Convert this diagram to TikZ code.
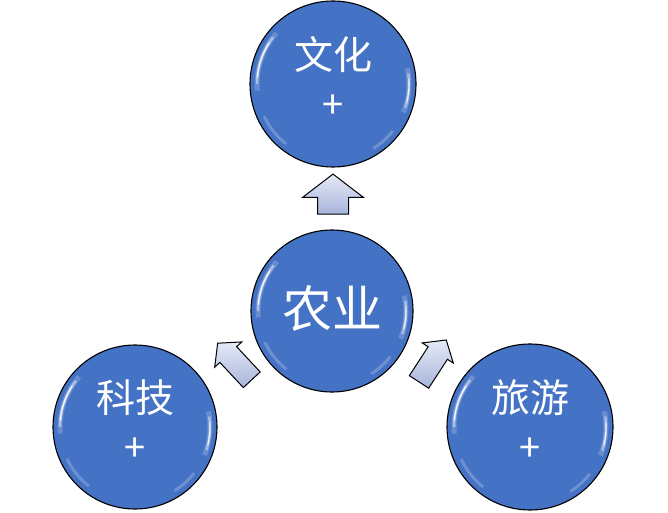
\documentclass[tikz,border=0pt]{standalone}
\usepackage{fontspec}
\newfontfamily\cjk{Noto Sans CJK SC}
\usetikzlibrary{shapes.arrows}
\definecolor{ballblue}{HTML}{4472C4}
\definecolor{arrtop}{HTML}{E6EAF6}
\definecolor{arrbot}{HTML}{A7B5DC}
\newcommand{\glossball}[2]{%
  \draw[white, line width=5pt, opacity=.2] ([shift={(138:#2)}]#1.center) arc (138:185:#2);
  \draw[white, line width=2.5pt, opacity=.45] ([shift={(142:#2)}]#1.center) arc (142:180:#2);
  \draw[white, line width=1.2pt, opacity=.9] ([shift={(147:#2)}]#1.center) arc (147:175:#2);
  \draw[white, line width=5pt, opacity=.2] ([shift={(-22:#2)}]#1.center) arc (-22:12:#2);
  \draw[white, line width=2.5pt, opacity=.4] ([shift={(-18:#2)}]#1.center) arc (-18:8:#2);
  \draw[white, line width=1.1pt, opacity=.85] ([shift={(-14:#2)}]#1.center) arc (-14:4:#2);
  \draw[white, line width=3pt, opacity=.22] ([shift={(205:#2)}]#1.center) arc (205:232:#2);
  \draw[white, line width=3pt, opacity=.22] ([shift={(-38:#2)}]#1.center) arc (-38:-58:#2);
}
\begin{document}
\begin{tikzpicture}[x=1pt,y=1pt,
  ball/.style={circle, fill=ballblue, draw=black, line width=1.1pt, inner sep=0pt, minimum size=#1},
  bigtxt/.style={text=white, font=\cjk\fontsize{50}{50}\selectfont, inner sep=0pt},
  txt/.style={text=white, font=\cjk\fontsize{39}{39}\selectfont, inner sep=0pt},
  plustxt/.style={text=white, font=\cjk\fontsize{38}{38}\selectfont, inner sep=0pt},
  blockarrow/.style={single arrow, draw=black, line width=1pt, top color=arrtop, bottom color=arrbot,
     inner xsep=0pt, minimum height=#1, line join=miter, text height=0pt, text depth=0pt},
]
\useasboundingbox (0,0) rectangle (668,512);
% circles
\node[ball=166] (wh) at (333,428) {};
\node[ball=162] (ny) at (332,201) {};
\node[ball=164] (kj) at (135,85) {};
\node[ball=166] (ly) at (530,85) {};
\glossball{wh}{76}
\glossball{ny}{74}
\glossball{kj}{75}
\glossball{ly}{76}
% texts
\node[txt] (wht) at (333,457) {文化};
\node[plustxt] (whp) at (333,405) {+};
\node[bigtxt] (nyt) at (332,204) {农业};
\node[txt] (kjt) at (135,114) {科技};
\node[plustxt] (kjp) at (135,62) {+};
\node[txt] (lyt) at (530,114) {旅游};
\node[plustxt] (lyp) at (530,62) {+};
% arrows
\node[blockarrow=40, inner ysep=15pt, single arrow head extend=15pt, single arrow tip angle=105, rotate=90] (a1) at (333,312) {};
\node[blockarrow=50, inner ysep=11pt, single arrow head extend=7pt, single arrow tip angle=100, rotate=133] (a2) at (238,147) {};
\node[blockarrow=50, inner ysep=11pt, single arrow head extend=7pt, single arrow tip angle=100, rotate=57] (a3) at (430,147) {};
\end{tikzpicture}
\end{document}
